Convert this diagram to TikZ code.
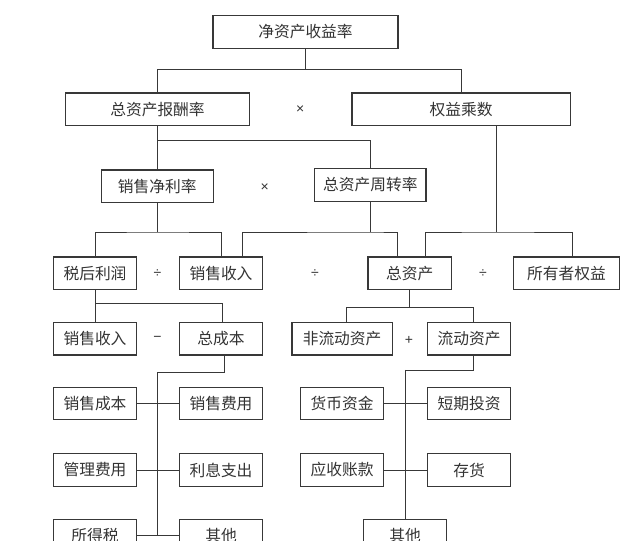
\documentclass[tikz,border=0pt]{standalone}
\usepackage{fontspec}
\setmainfont{Noto Sans CJK SC}
\newfontfamily\symfont{Liberation Sans}
\usetikzlibrary{calc}
\begin{document}
\begin{tikzpicture}[x=0.75pt,y=-0.75pt,
  bx/.style={draw=black!78,line width=0.9pt,inner sep=0pt,minimum height=24.4pt,
    minimum width=62.5pt,text=black!80,font=\fontsize{11.8pt}{13pt}\selectfont},
  op/.style={inner sep=0pt,text=black!80,font=\symfont\fontsize{10.5pt}{12pt}\selectfont},
  ln/.style={draw=black!78,line width=0.7pt}]
\useasboundingbox (0,0) rectangle (640,541);
% nodes
\node[bx,minimum width=138.8pt] (top) at (305.5,32) {净资产收益率};
\node[bx,minimum width=138.5pt] (zcbcl) at (157.5,109.3) {总资产报酬率};
\node[bx,minimum width=163.7pt] (qycs) at (461.2,109.3) {权益乘数};
\node[op] (m1) at (300.3,109.3) {×};
\node[bx,minimum width=84pt] (xsjll) at (157.3,186.3) {销售净利率};
\node[bx,minimum width=83.3pt,minimum height=25pt] (zzczzl) at (370.4,185) {总资产周转率};
\node[op] (m2) at (264.6,187.7) {×};
\node[bx] (shlr) at (95,273.3) {税后利润};
\node[bx] (xssr1) at (221,273.3) {销售收入};
\node[bx] (zzc) at (409.7,273.3) {总资产};
\node[bx,minimum width=79.7pt] (syzqy) at (566.4,273.3) {所有者权益};
\node[op] (d1) at (157.5,273.3) {÷};
\node[op] (d2) at (315,273.3) {÷};
\node[op] (d3) at (482.9,273.3) {÷};
\node[bx] (xssr2) at (95,338.8) {销售收入};
\node[bx] (zcb) at (221,338.8) {总成本};
\node[bx,minimum width=75.2pt] (fldzc) at (342.1,338.8) {非流动资产};
\node[bx] (ldzc) at (469.2,338.8) {流动资产};
\node[op] (s1) at (157.5,338.8) {−};
\node[op] (p1) at (409,340.7) {+};
\node[bx] (xscb) at (95,403.5) {销售成本};
\node[bx] (xsfy) at (221,403.5) {销售费用};
\node[bx] (hbzj) at (342.1,403.5) {货币资金};
\node[bx] (dqtz) at (469.2,403.5) {短期投资};
\node[bx] (glfy) at (95,470) {管理费用};
\node[bx] (lxzc) at (221,470) {利息支出};
\node[bx] (yszk) at (342.1,470) {应收账款};
\node[bx] (ch) at (469.2,470) {存货};
\node[bx,minimum height=24.8pt] (sds) at (95,535.7) {所得税};
\node[bx,minimum height=24.8pt] (qt1) at (221,535.7) {其他};
\node[bx,minimum height=24.8pt] (qt2) at (405,535.7) {其他};
% bus coordinates
\coordinate (b1) at (305.5,69.3);
\coordinate (b2) at (157.5,140.7);
\coordinate (b3) at (157.3,232);
\coordinate (b4) at (370.4,232);
\coordinate (b5) at (496.8,232);
\coordinate (b6) at (95,303.3);
\coordinate (b7) at (409,307.3);
\coordinate (b8) at (157.1,372.3);
\coordinate (b9) at (405.3,370);
% connectors
\draw[ln] (top.south -| b1) -- (b1);
\draw[ln] (zcbcl.north) |- (b1) -| (qycs.north);
\draw[ln] (zcbcl.south) -- (xsjll.north -| zcbcl.south);
\draw[ln] (b2) -| (zzczzl.north);
\draw[ln] (xsjll.south -| b3) -- (b3);
\draw[ln] (shlr.north) |- (b3) -| (xssr1.north);
\draw[ln] (zzczzl.south -| b4) -- (b4);
\draw[ln] ($(xssr1.north)+(21.9,0)$) |- (b4) -| ($(zzc.north)+(-12.2,0)$);
\draw[ln] (qycs.south -| b5) -- (b5);
\draw[ln] ($(zzc.north)+(15.7,0)$) |- (b5) -| ($(syzqy.north)+(5.9,0)$);
\draw[ln] (shlr.south) -- (xssr2.north);
\draw[ln] (b6) -| ($(zcb.north)+(1.8,0)$);
\draw[ln] (zzc.south -| b7) -- (b7);
\draw[ln] ($(fldzc.north)+(4.6,0)$) |- (b7) -| ($(ldzc.north)+(4.6,0)$);
\draw[ln] ($(zcb.south)+(3.4,0)$) |- (b8);
\draw[ln] (b8) -- (b8 |- sds.east);
\draw[ln] (xscb.east) -- (xsfy.west);
\draw[ln] (glfy.east) -- (lxzc.west);
\draw[ln] (sds.east) -- (qt1.west);
\draw[ln] ($(ldzc.south)+(4.6,0)$) |- (b9);
\draw[ln] (b9) -- (qt2.north -| b9);
\draw[ln] (hbzj.east) -- (dqtz.west);
\draw[ln] (yszk.east) -- (ch.west);
\end{tikzpicture}
\end{document}
